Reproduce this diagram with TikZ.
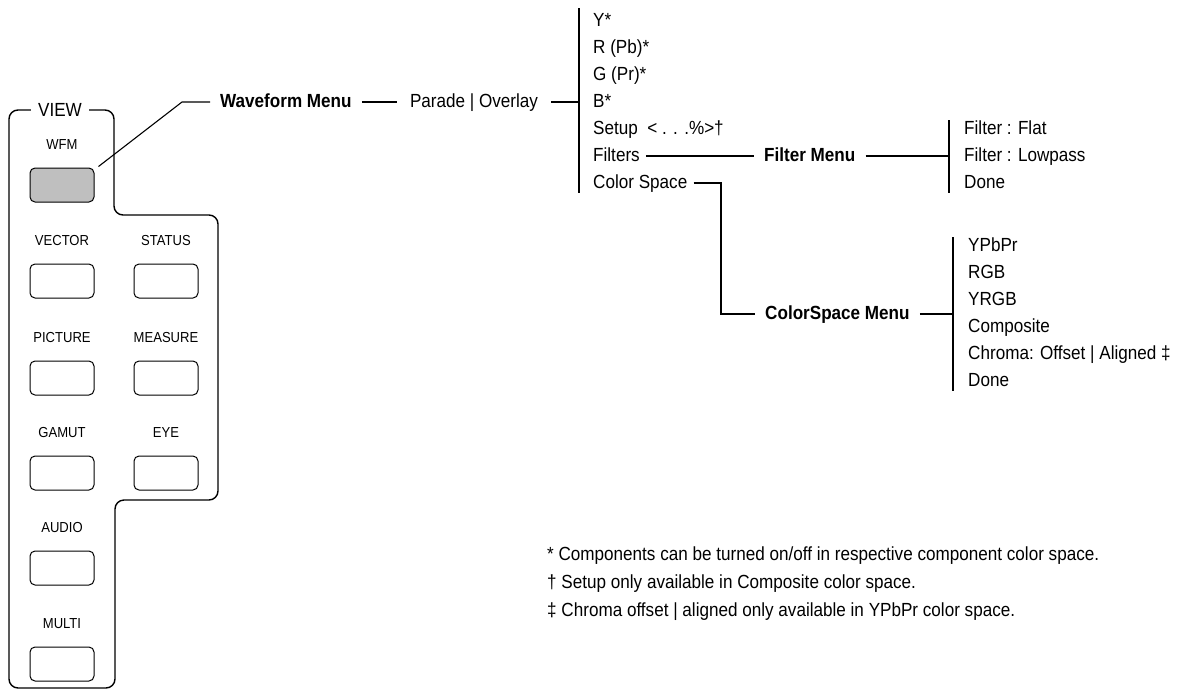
\documentclass[tikz,border=0pt]{standalone}
\usepackage{fontspec}
\setmainfont[FakeStretch=0.9]{Liberation Sans}
\usetikzlibrary{positioning}

\tikzset{
  panel/.style={line width=1.4pt, rounded corners=9pt},
  btn/.style={draw, line width=1pt, rounded corners=5pt, minimum width=64pt,
              minimum height=34pt, inner sep=0pt},
  btnlabel/.style={inner sep=0pt, text height=10.5pt, text depth=0pt,
                   font=\fontsize{14.5}{17}\selectfont},
  menu/.style={inner xsep=10pt, inner ysep=0pt, text height=14pt, text depth=4pt,
               font=\fontsize{19}{22}\selectfont\bfseries},
  choice/.style={menu, font=\fontsize{19}{22}\selectfont},
  item/.style={anchor=west, inner xsep=0pt, inner ysep=0pt, text height=14pt,
               text depth=4pt, font=\fontsize{19}{22}\selectfont},
  link/.style={line width=1.1pt},
  bar/.style={line width=1.4pt}
}

\begin{document}
\begin{tikzpicture}[x=1pt, y=-1pt]
  \useasboundingbox (0,0) rectangle (1180,694);

  % front panel
  \draw[panel] (60,110) -| (114,215) -| (218,500) -| (115,688) -| (9,110) -- cycle;
  \node[fill=white, inner xsep=7pt, inner ysep=2pt, font=\fontsize{19}{22}\selectfont]
    (view) at (60,110) {VIEW};

  \node[btn, fill=black!25] (wfm) at (62,185) {};
  \node[btnlabel, above=18pt of wfm] (wfm-lbl) {WFM};
  \foreach \nm/\txt/\x/\y in {vector/VECTOR/62/281, status/STATUS/166/281,
      picture/PICTURE/62/378, measure/MEASURE/166/378, gamut/GAMUT/62/473,
      eye/EYE/166/473, audio/AUDIO/62/568, multi/MULTI/62/664} {
    \node[btn] (\nm) at (\x,\y) {};
    \node[btnlabel, above=18pt of \nm] (\nm-lbl) {\txt};
  }

  % waveform menu
  \coordinate (kink) at (182,102);
  \node[menu, anchor=west] (wave) at (210,102) {Waveform Menu};
  \node[choice, right=35pt of wave, inner xsep=13pt] (parade) {Parade | Overlay};
  \draw[link] ([shift={(4pt,1pt)}]wfm.north east) -- (kink) -- (wave);
  \draw[link] (wave) -- (parade);

  \foreach \nm/\txt [count=\i from 0] in {ystar/Y*, rpb/R (Pb)*, gpr/G (Pr)*, bstar/B*,
      setup/{Setup~~< . . .\%>†}, filters/Filters, cspace/Color Space}
    \node[item] (\nm) at (593,{21+27*\i}) {\txt};
  \draw[bar] ([shift={(-14pt,13pt)}]ystar.west) -- ([shift={(-14pt,-10pt)}]cspace.west);
  \draw[link] (parade) -- ([xshift=-14pt]bstar.west);

  % filter menu
  \node[menu, right=114pt of filters] (filtmenu) {Filter Menu};
  \foreach \nm/\txt [count=\i from 0] in {flat/{Filter : Flat}, lowpass/{Filter : Lowpass},
      fdone/Done}
    \node[item] (\nm) at (964,{129+27*\i}) {\txt};
  \draw[bar] ([shift={(-15pt,9pt)}]flat.west) -- ([shift={(-15pt,-10pt)}]fdone.west);
  \draw[link] ([xshift=6pt]filters.east) -- (filtmenu);
  \draw[link] (filtmenu) -- ([xshift=-15pt]lowpass.west);

  % color space menu
  \node[menu, anchor=west] (csmenu) at (755,314) {ColorSpace Menu};
  \foreach \nm/\txt [count=\i from 0] in {ypbpr/YPbPr, rgb/RGB, yrgb/YRGB,
      composite/Composite, chroma/{Chroma: Offset | Aligned ‡}, csdone/Done}
    \node[item] (\nm) at (968,{246+27*\i}) {\txt};
  \coordinate (cs-bar) at ([xshift=-15pt]ypbpr.west);
  \draw[bar] ([shift={(-15pt,9pt)}]ypbpr.west) -- ([shift={(-15pt,-10pt)}]csdone.west);
  \draw[link] ([xshift=6pt]cspace.east) -| ([xshift=-34pt]csmenu.west) -- (csmenu);
  \draw[link] (csmenu) -- (cs-bar |- csmenu);

  % footnotes
  \foreach \nm/\txt [count=\i from 0] in {
      note-a/{* Components can be turned on/off in respective component color space.},
      note-b/{† Setup only available in Composite color space.},
      note-c/{‡ Chroma offset | aligned only available in YPbPr color space.}}
    \node[item] (\nm) at (547,{555+28*\i}) {\txt};
\end{tikzpicture}
\end{document}
